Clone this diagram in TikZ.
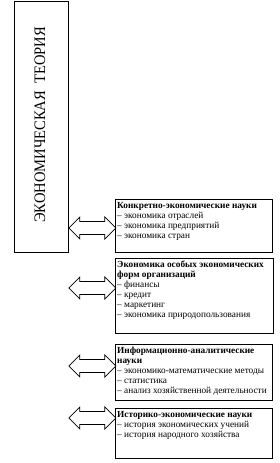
\documentclass[tikz,border=0pt]{standalone}
\usepackage{fontspec}
\setmainfont{Liberation Serif}
\begin{document}
\begin{tikzpicture}[x=1pt,y=-1pt,
  box/.style={draw,line width=0.8pt,anchor=north west,inner sep=0pt},
  txt/.style={anchor=north west,align=left,inner sep=0pt,font=\fontsize{9.3}{10}\selectfont},
  dbl/.pic={\draw[line width=0.7pt,fill=white] (0,0) -- (11,-11) -- (11,-6.5) -- (36,-6.5) -- (36,-11) -- (47,0) -- (36,11) -- (36,6.5) -- (11,6.5) -- (11,11) -- cycle;}
]
\useasboundingbox (0,0) rectangle (279,463);
% main box
\node[box,minimum width=54pt,minimum height=251.5pt] (main) at (14,0.5) {};
\node[rotate=90,font=\fontsize{16}{18}\selectfont] (title) at (40,125) {\scalebox{0.91}[1]{ЭКОНОМИЧЕСКАЯ\ \ ТЕОРИЯ}};
% boxes
\node[box,minimum width=157pt,minimum height=53pt] (b1) at (115,199) {};
\node[box,minimum width=158pt,minimum height=75pt] (b2) at (115,258) {};
\node[box,minimum width=157pt,minimum height=56pt] (b3) at (115,344) {};
\node[box,minimum width=157pt,minimum height=50pt] (b4) at (115,408) {};
% texts
\node[txt] (t1) at ([xshift=2pt,yshift=-3pt]b1.north west) {\textbf{Конкретно-экономические науки}\\– экономика отраслей\\– экономика предприятий\\– экономика стран};
\node[txt] (t2) at ([xshift=2pt,yshift=-3pt]b2.north west) {\textbf{Экономика особых экономических}\\\textbf{форм организаций}\\– финансы\\– кредит\\– маркетинг\\– экономика природопользования};
\node[txt] (t3) at ([xshift=2pt,yshift=-3pt]b3.north west) {\textbf{Информационно-аналитические}\\\textbf{науки}\\– экономико-математические методы\\– статистика\\– анализ хозяйственной деятельности};
\node[txt] (t4) at ([xshift=2pt,yshift=-3pt]b4.north west) {\textbf{Историко-экономические науки}\\– история экономических учений\\– история народного хозяйства};
% arrows
\coordinate (a1) at (main.east |- 0,228);
\coordinate (a2) at (main.east |- 0,288);
\coordinate (a3) at (main.east |- 0,366);
\coordinate (a4) at (main.east |- 0,418);
\pic at (a1) {dbl};
\pic at (a2) {dbl};
\pic at (a3) {dbl};
\pic at (a4) {dbl};
\end{tikzpicture}
\end{document}
